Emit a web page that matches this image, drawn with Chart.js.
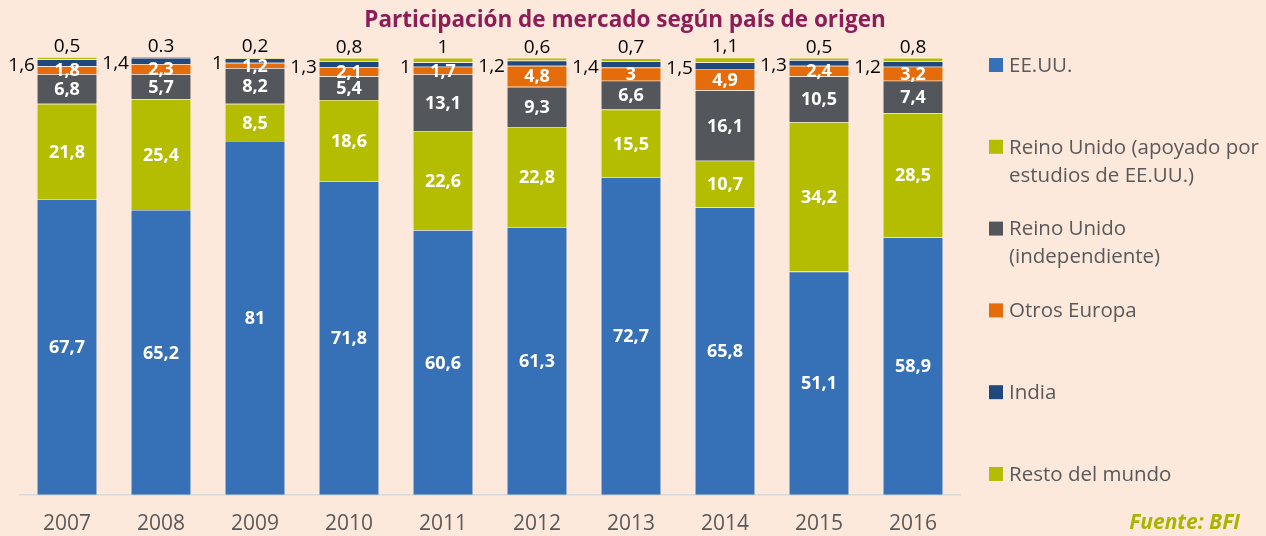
<!DOCTYPE html>
<html lang="es">
<head>
  <meta charset="UTF-8">
  <title>Participación de mercado según país de origen</title>
  <script src="https://cdn.jsdelivr.net/npm/chart.js"></script>
  <style>
    html, body { margin: 0; padding: 0; background: #fde9dc; }
    #wrap { width: 1266px; height: 536px; position: relative; }
  </style>
</head>
<body>
  <div id="wrap"><canvas id="chart" width="1266" height="536"></canvas></div>

  <script>
    // años
    const years = ['2007', '2008', '2009', '2010', '2011', '2012', '2013', '2014', '2015', '2016'];

    // series (%), de abajo hacia arriba
    const eeuu        = [67.7, 65.2, 81, 71.8, 60.6, 61.3, 72.7, 65.8, 51.1, 58.9];
    const ukApoyado   = [21.8, 25.4, 8.5, 18.6, 22.6, 22.8, 15.5, 10.7, 34.2, 28.5];
    const ukIndep     = [6.8, 5.7, 8.2, 5.4, 13.1, 9.3, 6.6, 16.1, 10.5, 7.4];
    const otrosEuropa = [1.8, 2.3, 1.2, 2.1, 1.7, 4.8, 3, 4.9, 2.4, 3.2];
    const india       = [1.6, 1.4, 1, 1.3, 1, 1.2, 1.4, 1.5, 1.3, 1.2];
    const resto       = [0.5, 0.3, 0.2, 0.8, 1, 0.6, 0.7, 1.1, 0.5, 0.8];
    // etiquetas tal como aparecen (2008 usa punto)
    const restoLabels = ['0,5', '0.3', '0,2', '0,8', '1', '0,6', '0,7', '1,1', '0,5', '0,8'];

    const legendLines = [
      ['EE.UU.'],
      ['Reino Unido (apoyado por', 'estudios de EE.UU.)'],
      ['Reino Unido', '(independiente)'],
      ['Otros Europa'],
      ['India'],
      ['Resto del mundo']
    ];

    const FONT = '"Open Sans", "Noto Sans", sans-serif';
    const fmt = v => String(v).replace('.', ',');

    // etiquetas de datos
    const labelPlugin = {
      id: 'labels',
      afterDatasetsDraw(chart) {
        const ctx = chart.ctx;
        ctx.save();
        chart.data.datasets.forEach((ds, di) => {
          const meta = chart.getDatasetMeta(di);
          meta.data.forEach((bar, i) => {
            const cy = (bar.y + bar.base) / 2;
            if (di < 4) {
              ctx.font = 'bold 18px ' + FONT;
              ctx.fillStyle = '#ffffff';
              ctx.textAlign = 'center';
              ctx.textBaseline = 'middle';
              ctx.fillText(fmt(ds.data[i]), bar.x, cy + 1);
            } else if (di === 4) {
              ctx.font = '19px ' + FONT;
              ctx.fillStyle = '#000000';
              ctx.textAlign = 'right';
              ctx.textBaseline = 'middle';
              ctx.fillText(fmt(ds.data[i]), bar.x - bar.width / 2 - 2, cy + 3);
            } else {
              ctx.font = '19px ' + FONT;
              ctx.fillStyle = '#000000';
              ctx.textAlign = 'center';
              ctx.textBaseline = 'bottom';
              ctx.fillText(restoLabels[i], bar.x, bar.y - 1);
            }
          });
        });
        ctx.restore();
      }
    };

    // título, leyenda y fuente
    const decoPlugin = {
      id: 'deco',
      afterDraw(chart) {
        const ctx = chart.ctx;
        ctx.save();
        ctx.font = 'bold 22.5px ' + FONT;
        ctx.fillStyle = '#8c1d56';
        ctx.textAlign = 'center';
        ctx.textBaseline = 'middle';
        ctx.fillText('Participación de mercado según país de origen', 625, 21);

        ctx.textAlign = 'left';
        ctx.font = '20.5px ' + FONT;
        chart.data.datasets.forEach((ds, i) => {
          const y = 65 + i * 81.8;
          ctx.fillStyle = ds.backgroundColor;
          ctx.fillRect(989, y - 7, 14, 14);
          ctx.fillStyle = '#595959';
          legendLines[i].forEach((line, j) => {
            ctx.fillText(line, 1009, y + j * 28 + 1);
          });
        });

        ctx.font = 'italic bold 21px ' + FONT;
        ctx.fillStyle = '#a8b400';
        ctx.textAlign = 'right';
        ctx.fillText('Fuente: BFI', 1240, 523);
        ctx.restore();
      }
    };

    const mk = (label, data, color) => ({
      label: label,
      data: data,
      backgroundColor: color,
      borderColor: 'rgba(255,255,255,0.35)',
      borderWidth: 0.6,
      clip: false
    });

    new Chart(document.getElementById('chart').getContext('2d'), {
      type: 'bar',
      data: {
        labels: years,
        datasets: [
          mk('EE.UU.', eeuu, '#3670b6'),
          mk('Reino Unido (apoyado por estudios de EE.UU.)', ukApoyado, '#b5bd00'),
          mk('Reino Unido (independiente)', ukIndep, '#53565b'),
          mk('Otros Europa', otrosEuropa, '#e46c0a'),
          mk('India', india, '#1f497d'),
          mk('Resto del mundo', resto, '#b5bd00')
        ]
      },
      options: {
        responsive: false,
        animation: false,
        devicePixelRatio: 1,
        layout: { padding: { top: 58, left: 20, right: 306, bottom: -18 } },
        datasets: { bar: { categoryPercentage: 1, barPercentage: 0.64 } },
        plugins: {
          legend: { display: false },
          title: { display: false },
          tooltip: { enabled: false }
        },
        scales: {
          x: {
            stacked: true,
            grid: { display: false, drawTicks: false },
            border: { display: true, color: '#d9d9d9', width: 1.5 },
            ticks: { color: '#595959', font: { family: FONT, size: 21 }, padding: 17 }
          },
          y: {
            stacked: true,
            display: false,
            min: 0,
            max: 100
          }
        }
      },
      plugins: [labelPlugin, decoPlugin]
    });
  </script>
</body>
</html>
